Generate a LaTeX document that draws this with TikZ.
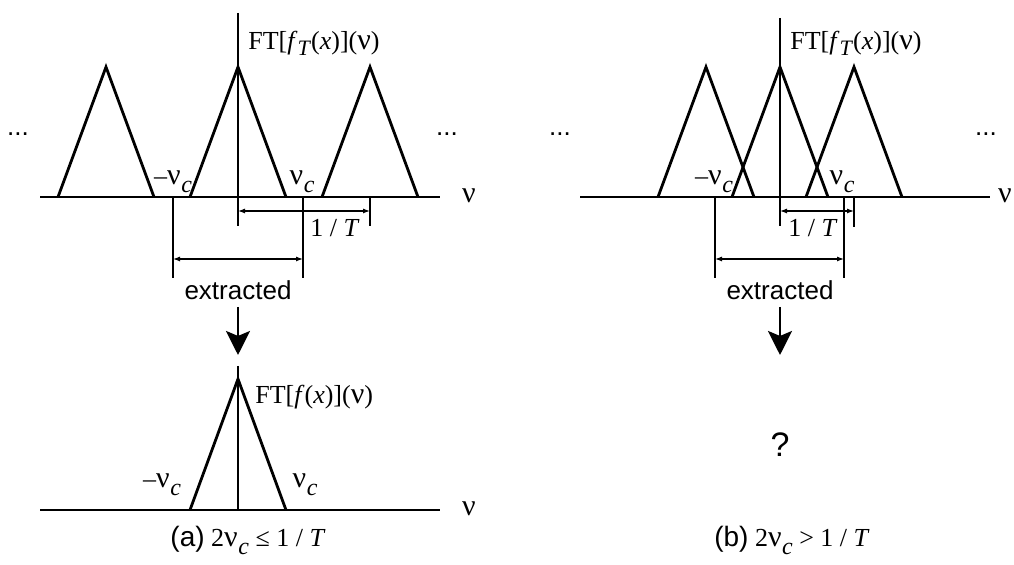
\documentclass[tikz,border=0pt]{standalone}
\usepackage{fontspec}
\setmainfont{Liberation Serif}
\setsansfont{Liberation Sans}
\usetikzlibrary{arrows.meta}

\newcommand{\nuu}{{\fontsize{15}{15}\selectfont ν}}
\newcommand{\nuc}{\nuu\kern0.3pt\raisebox{-4pt}{\fontsize{12}{12}\selectfont\textit{c}}}
\newcommand{\subT}{\raisebox{-3pt}{\fontsize{11}{11}\selectfont\textit{T}}}

\begin{document}
\begin{tikzpicture}[
  x=0.5pt, y=-0.5pt,
  >={Latex[length=3.5pt,width=2.5pt]},
  curve/.style={line width=1.4pt, line join=miter},
  guide/.style={line width=0.6pt},
  dimline/.style={<->, line width=0.6pt},
  bigarrow/.style={-{Stealth[length=12pt,width=12pt,inset=2.5pt]}, line width=1.4pt},
  lbl/.style={inner sep=0pt, font=\fontsize{13}{15}\selectfont},
  txt/.style={inner sep=0pt, font=\sffamily\fontsize{13}{15}\selectfont},
]
\useasboundingbox (0,0) rectangle (1014,565);

% --- (a) Abtastspektrum ohne Ueberlappung ---
\draw[curve] (40,197) -- (440,197);
\foreach \c in {106,238,370} {
  \draw[curve] (\c-48,197) -- (\c,67) -- (\c+48,197);
}
\draw[curve] (238,13) -- (238,226);
\node[lbl] (nuA) at (469,196) {\nuu};
\node[lbl, anchor=west] (ftA) at (248,43) {FT[\textit{f}\subT(\textit{x})](\nuu)};
\node[lbl] (mncA) at (173,182) {–\nuc};
\node[lbl] (ncA) at (302,182) {\nuc};
\node[txt] (dlA) at (18,134) {...};
\node[txt] (drA) at (447,134) {...};

% Hilfslinien und Masspfeile
\coordinate (aL) at (173,197);
\coordinate (aR) at (303,197);
\coordinate (aC) at (238,211);
\coordinate (aT) at (370,197);
\draw[guide] (aL) -- ++(0,81);
\draw[guide] (aR) -- ++(0,81);
\draw[guide] (aT) -- ++(0,29);
\draw[dimline] (aC) -- (aT |- aC);
\draw[dimline] (aL |- 0,259) -- (aR |- 0,259);
\node[lbl] (TA) at (335,228) {1 / \textit{T}};
\node[txt] (exA) at (238,290) {extracted};
\coordinate (arA) at (238,307);
\draw[bigarrow] (arA) -- ++(0,48);

% extrahiertes Spektrum
\draw[curve] (40,510) -- (440,510);
\draw[curve] (190,510) -- (238,379) -- (286,510);
\draw[curve] (238,366) -- (238,510);
\node[lbl] (nuA2) at (469,509) {\nuu};
\node[lbl, anchor=west] (ftA2) at (255,397) {FT[\textit{f}(\textit{x})](\nuu)};
\node[lbl] (mncA2) at (162,485) {–\nuc};
\node[lbl] (ncA2) at (305,485) {\nuc};
\node[lbl] (capA) at (248,540) {\textsf{\fontsize{14}{15}\selectfont (a)} 2\nuc{} ≤ 1 / \textit{T}};

% --- (b) Abtastspektrum mit Ueberlappung ---
\draw[curve] (580,197) -- (990,197);
\foreach \c in {706,780,854} {
  \draw[curve] (\c-48,197) -- (\c,67) -- (\c+48,197);
}
\draw[curve] (780,18) -- (780,226);
\node[lbl] (nuB) at (1005,196) {\nuu};
\node[lbl, anchor=west] (ftB) at (790,43) {FT[\textit{f}\subT(\textit{x})](\nuu)};
\node[lbl] (mncB) at (714,182) {–\nuc};
\node[lbl] (ncB) at (842,182) {\nuc};
\node[txt] (dlB) at (560,134) {...};
\node[txt] (drB) at (986,134) {...};

\coordinate (bL) at (715,197);
\coordinate (bR) at (844,197);
\coordinate (bC) at (780,211);
\coordinate (bT) at (854,197);
\draw[guide] (bL) -- ++(0,81);
\draw[guide] (bR) -- ++(0,81);
\draw[guide] (bT) -- ++(0,30);
\draw[dimline] (bC) -- (bT |- bC);
\draw[dimline] (bL |- 0,259) -- (bR |- 0,259);
\node[lbl] (TB) at (813,228) {1 / \textit{T}};
\node[txt] (exB) at (780,290) {extracted};
\coordinate (arB) at (780,307);
\draw[bigarrow] (arB) -- ++(0,48);

\node[txt, font=\sffamily\fontsize{17}{18}\selectfont] (qB) at (780,445) {?};
\node[lbl] (capB) at (792,540) {\textsf{\fontsize{14}{15}\selectfont (b)} 2\nuc{} > 1 / \textit{T}};

\end{tikzpicture}
\end{document}
